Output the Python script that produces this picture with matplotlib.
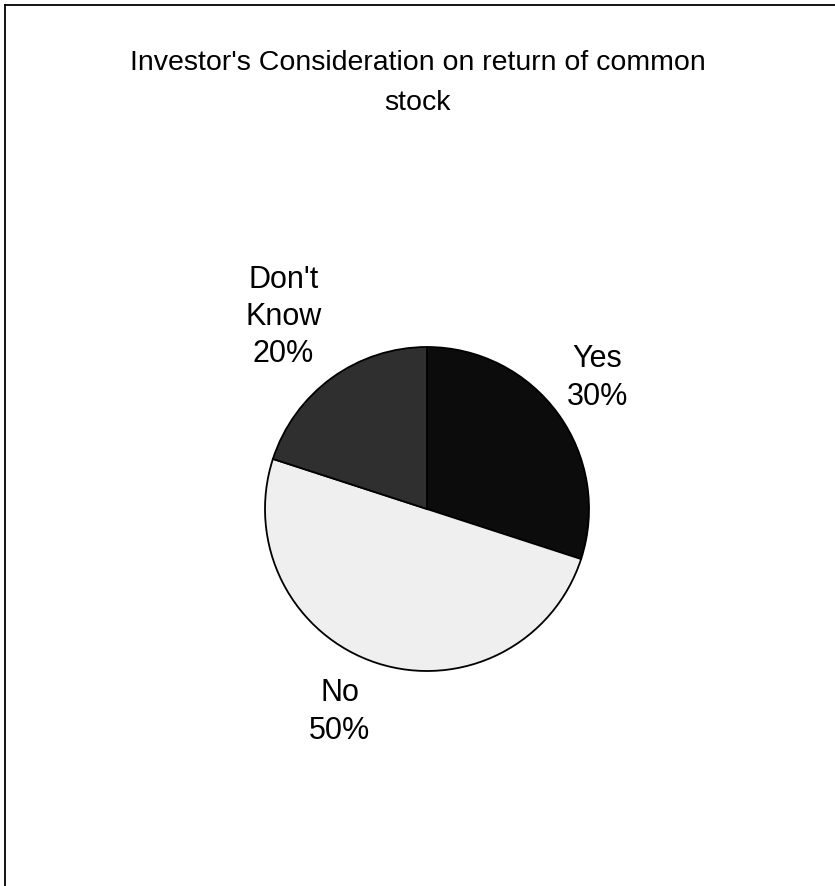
import matplotlib
matplotlib.use("Agg")
import matplotlib.pyplot as plt
from matplotlib.lines import Line2D
import numpy as np

plt.rcParams['font.family'] = ['Liberation Sans', 'DejaVu Sans']

title = "Investor's Consideration on return of common\nstock"
categories = ["Yes", "No", "Don't\nKnow"]
shares = [30, 50, 20]
colors = ["#0c0c0c", "#efefef", "#2f2f2f"]

# label placement (distance from centre in radii, angle in degrees)
label_dist = [1.325, 1.364, 1.48]
label_angle = [37.6, 246.8, 126.8]

W, H = 835, 886
fig = plt.figure(figsize=(W / 100, H / 100), dpi=100)

# outer frame (left and top edges)
fig.add_artist(Line2D([5 / W, 5 / W], [0, 1 - 5 / H], transform=fig.transFigure,
                      color="black", lw=1.3))
fig.add_artist(Line2D([5 / W, 1], [1 - 5 / H, 1 - 5 / H], transform=fig.transFigure,
                      color="black", lw=1.3))

cx, cy, r = 427, 509, 162
ax = fig.add_axes([(cx - r) / W, 1 - (cy + r) / H, 2 * r / W, 2 * r / H])
ax.pie(shares, colors=colors, startangle=90, counterclock=False,
       wedgeprops=dict(edgecolor="black", linewidth=1.3))
ax.set_xlim(-1, 1)
ax.set_ylim(-1, 1)
ax.set_aspect("auto")

for cat, val, d, a in zip(categories, shares, label_dist, label_angle):
    t = np.deg2rad(a)
    ax.text(d * np.cos(t), d * np.sin(t), f"{cat}\n{val}%", ha="center", va="center",
            fontsize=22, linespacing=1.32, clip_on=False)

fig.text(0.5, 1 - 83 / H, title, ha="center", va="center", fontsize=20.5,
         linespacing=1.72)

fig.savefig("out.png", dpi=100, facecolor="white")
